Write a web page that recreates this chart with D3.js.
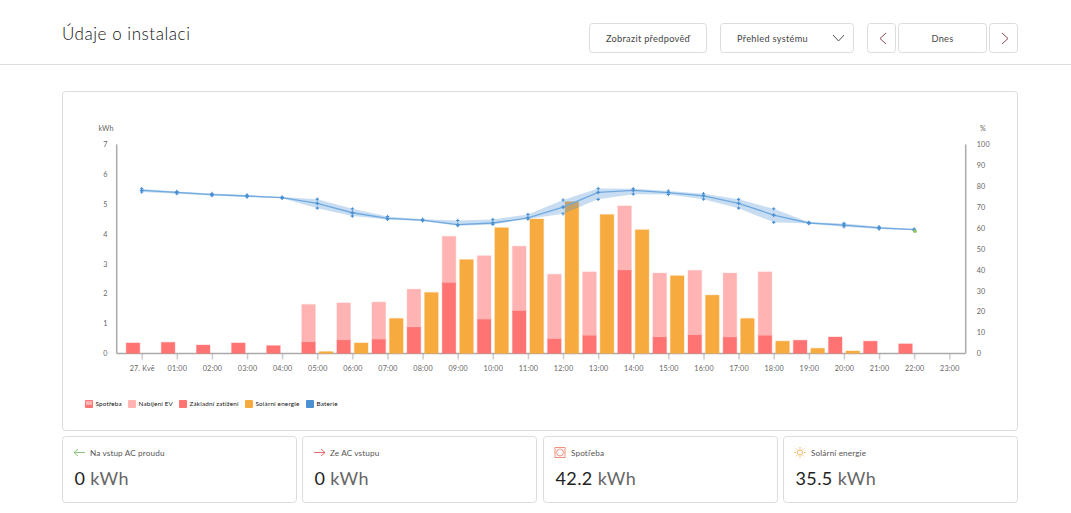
<!DOCTYPE html>
<html><head><meta charset="utf-8">
<script src="https://cdn.jsdelivr.net/npm/d3@7/dist/d3.min.js"></script>
<style>html,body{margin:0;padding:0;background:#fff}svg{display:block}</style>
</head><body><svg id="c" width="1071" height="513"></svg>
<script>
const hours = d3.range(24);
const tickLabels = ["27. Kvě","01:00","02:00","03:00","04:00","05:00","06:00","07:00","08:00","09:00","10:00","11:00","12:00","13:00","14:00","15:00","16:00","17:00","18:00","19:00","20:00","21:00","22:00","23:00"];
const baseLoad = [.35,.37,.28,.35,.26,.39,.46,.48,.89,2.38,1.15,1.44,.5,.61,2.8,.56,.63,.55,.61,.44,.55,.41,.32,0];
const evCharge = [0,0,0,0,0,1.25,1.23,1.24,1.26,1.54,2.12,2.15,2.15,2.12,2.14,2.13,2.15,2.14,2.12,0,0,0,0,0];
const solar = [0,0,0,0,0,.06,.35,1.17,2.04,3.14,4.21,4.5,5.08,4.65,4.14,2.6,1.95,1.17,.41,.17,.08,0,0,0];
const socMean = [78,77,76,75.3,74.5,71.8,67.3,64.6,63.8,61.6,62.4,64.8,70,77,78,76.9,75.4,71.8,66.2,62.4,61.4,60.1,59.2];
const socHigh = [78.8,77.5,76.5,75.8,74.8,73.8,69.2,65.5,64.2,63.6,64.1,66.5,73.4,78.9,78.8,77.7,76.4,73.7,69.2,62.7,62.2,60.6,59.5];
const socLow = [77.2,76.4,75.5,74.8,74.2,69.5,65.7,64.1,63.4,61.1,61.7,64.3,66.8,73.7,76.2,76,73.8,69.5,62.7,62.1,60.6,59.5,58.9];
const socNow = 58.5;
const kwhTicks = [0,1,2,3,4,5,6,7];
const pctTicks = [0,10,20,30,40,50,60,70,80,90,100];
const legendItems = [["Spotřeba","#ff7373","#ffb3b3"],["Nabíjení EV","#ffb3b3",null],["Základní zatížení","#ff7373",null],["Solární energie","#f7aa3e",null],["Baterie","#4a90d2",null]];
const legendX = [85,128,179,245,306];
const cards = [["Na vstup AC proudu","0","arrowL"],["Ze AC vstupu","0","arrowR"],["Spotřeba","42.2","house"],["Solární energie","35.5","sun"]];

const FONT = "Lato, 'Open Sans', sans-serif";
const svg = d3.select("#c").style("font-family",FONT);
const x = d3.scaleLinear().domain([0,23]).range([141.7,949.3]);
const y = d3.scaleLinear().domain([0,7]).range([353.4,144.4]);
const yp = d3.scaleLinear().domain([0,100]).range([353.4,144.4]);
const box=(X,Y,W,H,r=3)=>svg.append("rect").attr("x",X+.5).attr("y",Y+.5).attr("width",W).attr("height",H).attr("rx",r).attr("fill","#fff").attr("stroke","#dcdcdc");

// header
svg.append("text").attr("x",62).attr("y",40).attr("font-size",17).attr("font-weight",300).attr("letter-spacing",.55).attr("fill","#111").text("Údaje o instalaci");
svg.append("line").attr("x1",0).attr("x2",1071).attr("y1",64.5).attr("y2",64.5).attr("stroke","#dedede");
const btn=(X,W,t,cx)=>{box(X,23,W,29);svg.append("text").attr("x",cx).attr("y",41.5).attr("text-anchor","middle").attr("font-size",9.2).attr("letter-spacing",.3).attr("fill","#444").text(t);};
btn(589,117,"Zobrazit předpověď",648);
btn(720,133,"Přehled systému",772.5);
btn(867,28,"",0);btn(898,88,"Dnes",942.5);btn(989,28,"",0);
svg.append("path").attr("d","M833 35l5.5 6l5.5-6").attr("fill","none").attr("stroke","#555");
svg.append("path").attr("d","M886 33l-6 5.5l6 5.5").attr("fill","none").attr("stroke","#8a4a52");
svg.append("path").attr("d","M1002 33l6 5.5l-6 5.5").attr("fill","none").attr("stroke","#8a4a52");

// chart card
box(62,91,955,339);

// axes
const tickColor="#666";
const gL = svg.append("g").attr("transform","translate(116.7,0)").call(d3.axisLeft(y).tickValues(kwhTicks).tickSize(0).tickPadding(9).tickFormat(d3.format("d")));
const gR = svg.append("g").attr("transform","translate(965.7,0)").call(d3.axisRight(yp).tickValues(pctTicks).tickSize(0).tickPadding(11).tickFormat(d3.format("d")));
const gB = svg.append("g").attr("transform","translate(0,353.4)").call(d3.axisBottom(x).tickValues(hours).tickSize(6).tickPadding(6).tickFormat(i=>tickLabels[i]));
[gL,gR,gB].forEach(g=>{g.selectAll("text").attr("font-size",7.2).attr("font-family",FONT).attr("fill",tickColor).attr("letter-spacing",.2);g.select(".domain").remove();});
gB.selectAll("line").attr("stroke","#ccc").attr("stroke-width",1.5);
gB.append("line").attr("x1",116.7).attr("x2",965.7).attr("stroke","#aaa").attr("stroke-width",1.5);
gL.append("line").attr("y1",144.4).attr("y2",353.4).attr("stroke","#aaa").attr("stroke-width",1.5);
gR.append("line").attr("y1",144.4).attr("y2",353.4).attr("stroke","#aaa").attr("stroke-width",1.5);
svg.append("text").attr("x",106).attr("y",131).attr("text-anchor","middle").attr("font-size",7.2).attr("fill",tickColor).text("kWh");
svg.append("text").attr("x",983).attr("y",131).attr("text-anchor","middle").attr("font-size",7.2).attr("fill",tickColor).text("%");

// bars
const W=13.6;
const bar=(X,v0,v1,c)=>{ if(v1<=v0) return; svg.append("rect").attr("x",X).attr("width",W).attr("y",y(v1)).attr("height",y(v0)-y(v1)).attr("fill",c).attr("stroke",c).attr("stroke-opacity",.3).attr("stroke-width",1.2); };
hours.forEach(h=>{
  const X=x(h)-15.5;
  bar(X,0,baseLoad[h],"#ff7373");
  bar(X,baseLoad[h],baseLoad[h]+evCharge[h],"#ffb3b3");
  bar(x(h)+2,0,solar[h],"#f7aa3e");
});

// SoC band, line, markers
const idx=d3.range(socMean.length);
svg.append("path").attr("d",d3.area().x(i=>x(i)).y0(i=>yp(socLow[i])).y1(i=>yp(socHigh[i]))(idx)).attr("fill","#4a90d2").attr("fill-opacity",.3);
svg.append("path").attr("d",d3.line().x(i=>x(i)).y(i=>yp(socMean[i]))(idx)).attr("fill","none").attr("stroke","#6fa9e0").attr("stroke-width",1.3);
const cross=d3.symbol().type(d3.symbolCross);
[socMean,socHigh,socLow].forEach((s,k)=>svg.append("g").selectAll("path").data(idx).join("path").attr("d",cross.size(k?6:8)()).attr("transform",i=>`translate(${x(i)},${yp(s[i])})`).attr("fill","#4a90d2"));
svg.append("circle").attr("cx",x(22)+.8).attr("cy",yp(socNow)).attr("r",1.8).attr("fill","#8cc35e");

// legend
legendItems.forEach((d,i)=>{
  const lx=legendX[i], g=svg.append("g");
  g.append("rect").attr("x",lx).attr("y",400).attr("width",8).attr("height",8).attr("rx",1).attr("fill",d[1]);
  if(d[2]) g.append("rect").attr("x",lx+1).attr("y",401).attr("width",6).attr("height",4).attr("fill",d[2]);
  g.append("text").attr("x",lx+10.5).attr("y",406).attr("font-size",6.3).attr("fill","#111").attr("letter-spacing",.2).text(d[0]);
});

// summary cards
const cx=[62,302,543,783];
cards.forEach((c,i)=>{
  const X=cx[i]; box(X,436,234,66);
  svg.append("text").attr("x",X+28).attr("y",456).attr("font-size",8.2).attr("letter-spacing",.12).attr("fill","#555").text(c[0]);
  const t=svg.append("text").attr("x",X+12.5).attr("y",485).attr("font-size",18).attr("letter-spacing",.4);
  t.append("tspan").attr("fill","#222").text(c[1]);
  t.append("tspan").attr("fill","#666").text(" kWh");
  const ix=X+12, iy=452.5;
  if(c[2]=="arrowL") svg.append("path").attr("d",`M${ix+11} ${iy}H${ix}m4 -3.5l-4 3.5l4 3.5`).attr("fill","none").attr("stroke","#8ac477");
  if(c[2]=="arrowR") svg.append("path").attr("d",`M${ix} ${iy}H${ix+11}m-4 -3.5l4 3.5l-4 3.5`).attr("fill","none").attr("stroke","#e8666c");
  if(c[2]=="house"){ svg.append("rect").attr("x",ix).attr("y",iy-5).attr("width",10).attr("height",10).attr("fill","none").attr("stroke","#f0907f");
    svg.append("circle").attr("cx",ix+5).attr("cy",iy).attr("r",3.5).attr("fill","none").attr("stroke","#f0907f"); }
  if(c[2]=="sun"){ svg.append("circle").attr("cx",ix+5).attr("cy",iy).attr("r",2.6).attr("fill","none").attr("stroke","#f4b060");
    d3.range(8).forEach(a=>{const t=a*Math.PI/4;svg.append("line").attr("x1",ix+5+4*Math.cos(t)).attr("y1",iy+4*Math.sin(t)).attr("x2",ix+5+5.5*Math.cos(t)).attr("y2",iy+5.5*Math.sin(t)).attr("stroke","#f4b060");}); }
});
</script></body></html>
